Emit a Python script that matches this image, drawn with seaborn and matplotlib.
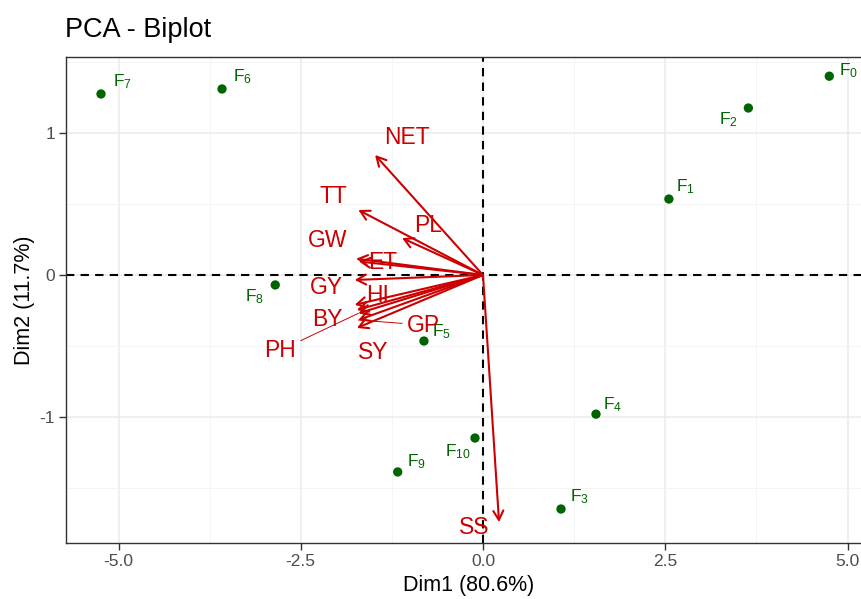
import numpy as np
import pandas as pd
import matplotlib
matplotlib.use("Agg")
import matplotlib.pyplot as plt
import seaborn as sns

# ---- data ----
ind_names = ["F0", "F1", "F2", "F3", "F4", "F5", "F6", "F7", "F8", "F9", "F10"]
ind_x = [4.75, 2.55, 3.64, 1.07, 1.55, -0.81, -3.58, -5.24, -2.85, -1.17, -0.11]
ind_y = [1.40, 0.535, 1.176, -1.648, -0.98, -0.465, 1.31, 1.275, -0.07, -1.387, -1.148]

var_names = ["NET", "TT", "PL", "GW", "ET", "GY", "HI", "BY", "PH", "GP", "SY", "SS"]
var_x = [-1.48, -1.71, -1.11, -1.74, -1.70, -1.76, -1.76, -1.73, -1.71, -1.71, -1.73, 0.22]
var_y = [0.845, 0.458, 0.26, 0.115, 0.095, -0.035, -0.21, -0.246, -0.27, -0.317, -0.373, -1.74]

x_ticks = [-5.0, -2.5, 0.0, 2.5, 5.0]
y_ticks = [-1, 0, 1]
title = "PCA - Biplot"
xlabel = "Dim1 (80.6%)"
ylabel = "Dim2 (11.7%)"

# ---- label offsets (pixels: right, down) ----
ind_off = {"F0": (19, -6), "F1": (17, -12), "F2": (-20, 12), "F3": (19, -12),
           "F4": (17, -10), "F5": (18, -9), "F6": (20, -12), "F7": (21, -12),
           "F8": (-21, 12), "F9": (19, -10), "F10": (-17, 14)}
var_off = {"NET": (32, -18), "TT": (-25, -13), "PL": (26, -13), "GW": (-29, -18),
           "ET": (24, 1), "GY": (-28, 8), "HI": (23, -9), "BY": (-30, 10),
           "PH": (-78, 37), "GP": (65, 5), "SY": (16, 25), "SS": (-25, 5)}
connect = {"PH", "GP"}

ind_df = pd.DataFrame({"name": ind_names, "x": ind_x, "y": ind_y})

sns.set_theme(style="whitegrid")
plt.rcParams["font.family"] = ["Liberation Sans", "DejaVu Sans"]
plt.rcParams["mathtext.fontset"] = "custom"
plt.rcParams["mathtext.rm"] = "Liberation Sans"

W, H = 862, 599
fig = plt.figure(figsize=(W / 100, H / 100), dpi=100)
px_l, px_r, px_t, px_b = 66, 872, 57, 543
ax = fig.add_axes([px_l / W, 1 - px_b / H, (px_r - px_l) / W, (px_b - px_t) / H])

x0 = 483
sx = 72.9
y0 = 275
sy = 142.0
ax.set_xlim((px_l - x0) / sx, (px_r - x0) / sx)
ax.set_ylim((y0 - px_b) / sy, (y0 - px_t) / sy)

# grid
ax.set_facecolor("white")
ax.set_xticks(x_ticks)
ax.set_yticks(y_ticks)
ax.set_xticks([-3.75, -1.25, 1.25, 3.75], minor=True)
ax.set_yticks([-1.5, -0.5, 0.5, 1.5], minor=True)
ax.grid(which="major", color="#EBEBEB", linewidth=1.1)
ax.grid(which="minor", color="#F2F2F2", linewidth=0.6)
ax.set_axisbelow(True)
for s in ax.spines.values():
    s.set_color("#333333")
    s.set_linewidth(1.0)
ax.tick_params(axis="both", which="major", length=5, width=1, color="#333333",
               labelsize=12.5, labelcolor="#4D4D4D", pad=3, bottom=True, left=True)
ax.tick_params(which="minor", length=0)
ax.set_xticklabels([f"{v:.1f}" for v in x_ticks])
ax.set_yticklabels([str(v) for v in y_ticks])

ax.axhline(0, color="black", linestyle=(0, (4, 3)), linewidth=1.5, zorder=2)
ax.axvline(0, color="black", linestyle=(0, (4, 3)), linewidth=1.5, zorder=2)

# individuals
sns.scatterplot(data=ind_df, x="x", y="y", ax=ax, color="#006400", s=45,
                edgecolor="none", zorder=4, legend=False)
for n, xv, yv in zip(ind_names, ind_x, ind_y):
    dx, dy = ind_off[n]
    lab = r"$\mathregular{F_{%s}}$" % n[1:]
    ax.annotate(lab, (xv, yv), xytext=(dx * 0.72, -dy * 0.72), textcoords="offset points",
                ha="center", va="center", color="#006400", fontsize=12.5, zorder=5)

# variables
red = "#CC0000"
for n, xv, yv in zip(var_names, var_x, var_y):
    ax.annotate("", xy=(xv, yv), xytext=(0, 0),
                arrowprops=dict(arrowstyle="->,head_length=0.55,head_width=0.3",
                                color=red, lw=1.5, shrinkA=0, shrinkB=0), zorder=3)
for n, xv, yv in zip(var_names, var_x, var_y):
    dx, dy = var_off[n]
    if n in connect:
        ax.annotate(n, (xv, yv), xytext=(dx * 0.72, -dy * 0.72), textcoords="offset points",
                    ha="center", va="center", color=red, fontsize=16.5, zorder=5,
                    arrowprops=dict(arrowstyle="-", color=red, lw=0.7,
                                    shrinkA=1, shrinkB=0))
    else:
        ax.annotate(n, (xv, yv), xytext=(dx * 0.72, -dy * 0.72), textcoords="offset points",
                    ha="center", va="center", color=red, fontsize=16.5, zorder=5)

ax.set_xlabel(xlabel, fontsize=15.5, color="black", labelpad=4)
ax.set_ylabel(ylabel, fontsize=15.5, color="black", labelpad=3)
fig.text(65 / W, 1 - 30 / H, title, fontsize=19.5, ha="left", va="center", color="black")

fig.savefig("out.png", dpi=100)
